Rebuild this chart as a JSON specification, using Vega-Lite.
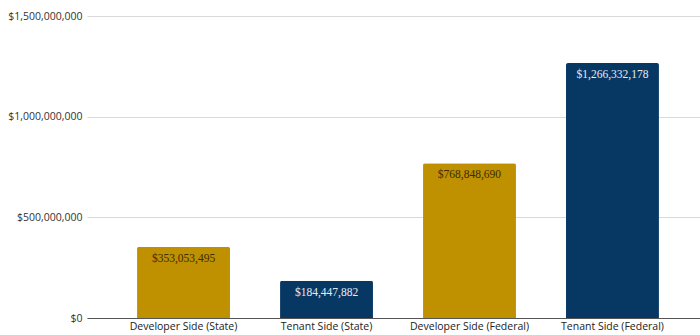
{
  "$schema": "https://vega.github.io/schema/vega-lite/v6.json",
  "autosize": "none",
  "width": 622,
  "height": 302,
  "padding": {"left": 87, "top": 16, "right": 0, "bottom": 17},
  "background": "white",
  "config": {"view": {"stroke": null}},
  "data": {"values": [
    {"category": "Developer Side (State)", "value": 353053495, "label": "$353,053,495", "group": "Developer"},
    {"category": "Tenant Side (State)", "value": 184447882, "label": "$184,447,882", "group": "Tenant"},
    {"category": "Developer Side (Federal)", "value": 768848690, "label": "$768,848,690", "group": "Developer"},
    {"category": "Tenant Side (Federal)", "value": 1266332178, "label": "$1,266,332,178", "group": "Tenant"}
  ]},
  "encoding": {
    "x": {"field": "category", "type": "nominal", "sort": null,
      "scale": {"paddingInner": 0.35, "paddingOuter": 0.35},
      "axis": {"title": null, "labelAngle": 0, "ticks": false, "domain": true, "domainColor": "#555", "labelFont": "Open Sans", "labelFontSize": 10.5, "labelColor": "#222", "labelPadding": 3}},
    "y": {"field": "value", "type": "quantitative",
      "scale": {"domain": [0, 1500000000]},
      "axis": {"title": null, "values": [0, 500000000, 1000000000, 1500000000], "format": "$,.0f", "ticks": false, "domain": false, "gridColor": "#d9d9d9", "labelFont": "Open Sans", "labelFontSize": 10.5, "labelColor": "#333", "labelPadding": 5}}
  },
  "layer": [
    {"mark": {"type": "bar", "cornerRadiusTopLeft": 2, "cornerRadiusTopRight": 2},
     "encoding": {"color": {"field": "group", "type": "nominal", "legend": null,
        "scale": {"domain": ["Developer", "Tenant"], "range": ["#BF9000", "#073763"]}}}},
    {"mark": {"type": "text", "baseline": "top", "dy": 6, "font": "Liberation Serif", "fontSize": 11.5},
     "encoding": {"text": {"field": "label"},
        "color": {"field": "group", "type": "nominal", "legend": null,
        "scale": {"domain": ["Developer", "Tenant"], "range": ["#3a2c05", "#e8ecf2"]}}}}
  ],
  "resolve": {"scale": {"color": "independent"}}
}
